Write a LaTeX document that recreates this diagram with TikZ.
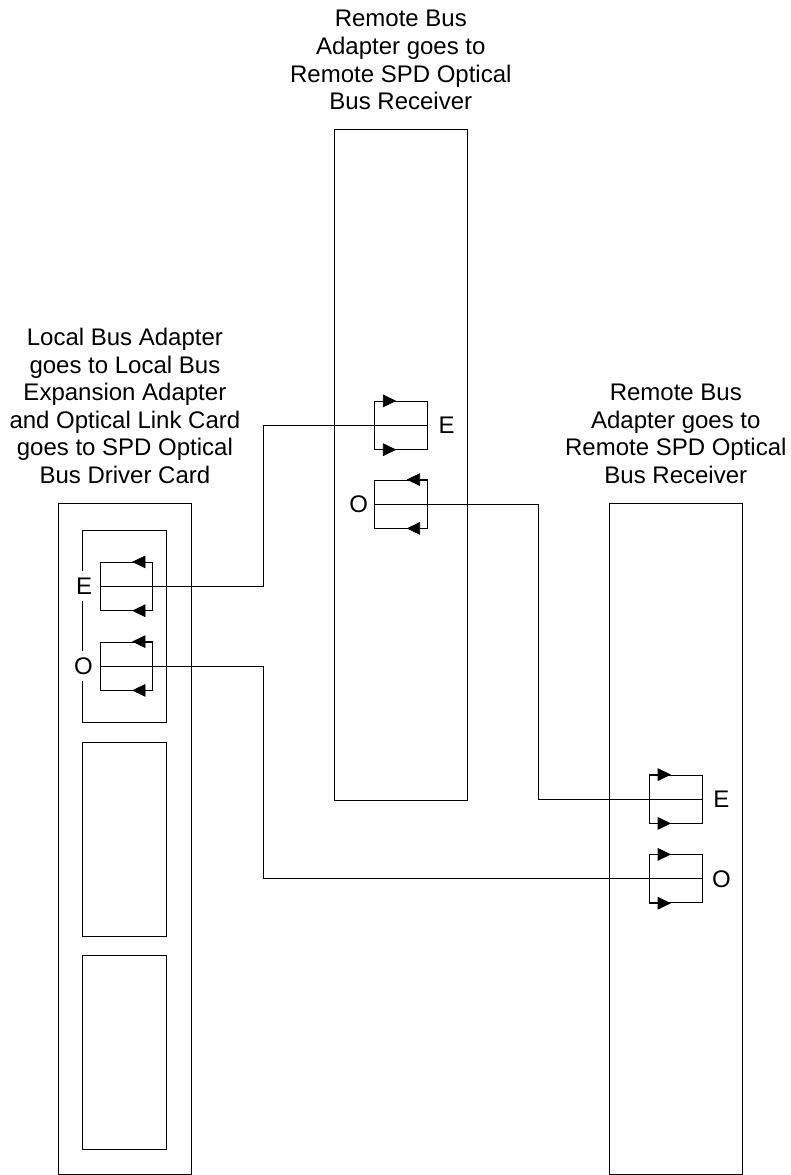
\documentclass[tikz,border=0pt]{standalone}
\usepackage{fontspec}
\setmainfont{Liberation Sans}
\usepackage{tikz}
\usetikzlibrary{positioning,arrows.meta}
\tikzset{
  unit/.style={draw, line width=0.7pt, minimum width=99.75pt, minimum height=503.25pt, inner sep=0pt},
  card/.style={draw, line width=0.6pt, minimum width=63pt, minimum height=145.5pt, inner sep=0pt},
  conn/.style={draw, line width=0.6pt, minimum width=39.5pt, minimum height=36pt, inner sep=0pt},
  capt/.style={font=\fontsize{18}{20.7}\selectfont, align=center, inner sep=0pt},
  port/.style={font=\fontsize{18}{20.7}\selectfont, inner sep=0pt},
  wire/.style={line width=0.6pt},
  tip/.style={-{Triangle[length=10pt,width=9.5pt]}, line width=0.6pt},
}

\begin{document}
\begin{tikzpicture}[x=0.75pt, y=-0.75pt]
\useasboundingbox (0,0) rectangle (791,1175);
% --- the three adapters ---
\node[unit] (local) at (124.9,838.7) {};
\node[unit] (remA)  at (400.8,464.8) {};
\node[unit] (remB)  at (675.8,838.6) {};
\node[capt, above=14pt of local] {Local Bus Adapter\\goes to Local Bus\\Expansion Adapter\\and Optical Link Card\\goes to SPD Optical\\Bus Driver Card};
\node[capt, above=14pt of remA] {Remote Bus\\Adapter goes to\\Remote SPD Optical\\Bus Receiver};
\node[capt, above=14pt of remB] {Remote Bus\\Adapter goes to\\Remote SPD Optical\\Bus Receiver};

% --- cards in the local adapter ---
\node[card, minimum height=144.5pt] (olc) at (124.7,626.4) {};
\node[card] (slot2) at (124.7,839.7) {};
\node[card] (slot3) at (124.7,1052.3) {};

% --- connectors ---
\node[conn] (lE) at (126.4,586.3) {};
\node[conn] (lO) at (126.4,666) {};
\node[conn] (aE) at (401,425.3) {};
\node[conn] (aO) at (401,504) {};
\node[conn] (bE) at (675.7,799) {};
\node[conn] (bO) at (675.7,878.8) {};
\node[port, fill=white, inner xsep=1pt, inner ysep=5pt, left=4.5pt of lE] (lEl) {E};
\node[port, fill=white, inner xsep=1pt, inner ysep=5pt, left=4pt of lO] (lOl) {O};
\node[port, right=8pt of aE] (aEl) {E};
\node[port, left=4.5pt of aO] (aOl) {O};
\node[port, right=8pt of bE] (bEl) {E};
\node[port, right=7pt of bO] (bOl) {O};
\foreach \c in {aE,bE,bO} {
  \draw[tip] (\c.north west) -- ++(22,0);
  \draw[tip] (\c.south west) -- ++(22,0);
}
\foreach \c in {lE,lO,aO} {
  \draw[tip] (\c.north east) -- ++(-21,0);
  \draw[tip] (\c.south east) -- ++(-21,0);
}

% --- fibre runs ---
\coordinate (busL) at (263,0);
\coordinate (busR) at (538,0);
\draw[wire] (lE.west) -- (lE.west -| busL) |- (aE.east);
\draw[wire] (lO.west) -- (lO.west -| busL) |- (bO.east);
\draw[wire] (aO.west) -- (aO.west -| busR) |- (bE.east);
\end{tikzpicture}
\end{document}
